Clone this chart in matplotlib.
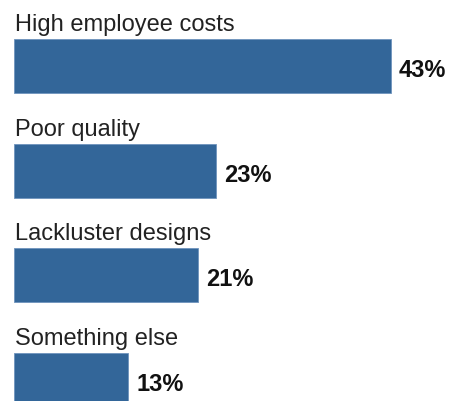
import matplotlib
matplotlib.use("Agg")
import matplotlib.pyplot as plt
from matplotlib.transforms import offset_copy

categories = ["High employee costs", "Poor quality", "Lackluster designs", "Something else"]
values = [43, 23, 21, 13]
value_labels = ["43%", "23%", "21%", "13%"]

bar_color = "#336699"
DPI = 100

fig = plt.figure(figsize=(4.53, 4.01), dpi=DPI)
ax = fig.add_axes([0, 0, 1, 1])

positions = list(range(len(categories)))
bar_h = 0.516
ax.barh(positions, values, height=bar_h, left=0, color=bar_color,
        edgecolor="#6f93bd", linewidth=0.6)

ax.set_xlim(-1.6, 50.06)
ax.set_ylim(3.2006, -0.6306)
ax.axis("off")

font = "Liberation Sans"
for pos, cat, val, lab in zip(positions, categories, values, value_labels):
    # category name just above each bar
    t_cat = offset_copy(ax.transData, fig=fig, x=1, y=8, units="dots")
    ax.text(0, pos - bar_h / 2, cat, transform=t_cat, ha="left", va="baseline",
            fontsize=17, family=font, color="#222222")
    # bold value to the right of each bar
    t_val = offset_copy(ax.transData, fig=fig, x=8, y=-11, units="dots")
    ax.text(val, pos, lab, transform=t_val, ha="left", va="baseline",
            fontsize=17, fontweight="bold", family=font, color="#111111")

fig.savefig("out.png", dpi=DPI)
